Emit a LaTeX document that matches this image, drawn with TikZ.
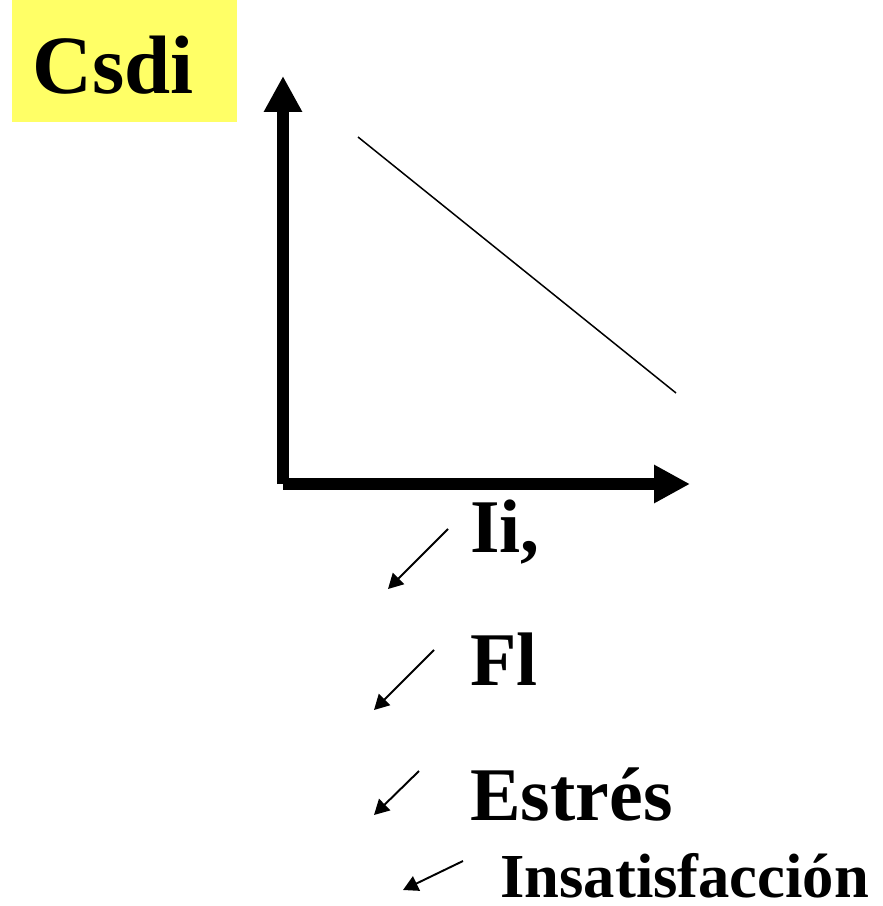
\documentclass[tikz,border=0pt]{standalone}
\usepackage{fontspec}
\setmainfont{Liberation Serif}
\usetikzlibrary{arrows.meta}

\definecolor{tagyellow}{HTML}{FFFF66}

\begin{document}
\begin{tikzpicture}[
  x=0.567pt, y=-0.567pt,
  tag/.style={fill=tagyellow, anchor=north west, inner xsep=11.3pt, inner ysep=0pt,
    text width=104.9pt, align=left, text height=52.7pt, text depth=16.4pt,
    font=\bfseries\fontsize{47}{56}\selectfont},
  word/.style={anchor=base west, inner sep=0pt, font=\bfseries\fontsize{43}{52}\selectfont},
  smallword/.style={anchor=base west, inner sep=0pt, font=\bfseries\fontsize{35.5}{43}\selectfont},
  axis/.style={line width=6.8pt, -{Triangle[length=20.4pt, width=20.4pt]}},
  trend/.style={line width=0.85pt},
  hint/.style={line width=1.1pt, -{Triangle[length=8.5pt, width=9pt]}}
]
\useasboundingbox (0,0) rectangle (882,906);

% label box
\node[tag] (csdi) at (12,0) {Csdi};

% axes and trend line
\coordinate (origin) at (283,484);
\coordinate (ytip) at (283,76);
\coordinate (xtip) at (690,484);
\draw[axis] (origin) -- (ytip);
\draw[axis] (origin) -- (xtip);
\coordinate (trendA) at (358,137);
\coordinate (trendB) at (676,393);
\draw[trend] (trendA) -- (trendB);

% consequences
\node[word] (ii) at (470,552) {Ii,};
\node[word] (fl) at (470,685) {Fl};
\node[word] (estres) at (470,820) {Estrés};
\node[smallword] (insat) at (500,897) {Insatisfacción};

\coordinate (h1a) at (448,529);
\coordinate (h1b) at (388,589);
\coordinate (h2a) at (434,650);
\coordinate (h2b) at (374,710);
\coordinate (h3a) at (419,771);
\coordinate (h3b) at (374,815);
\coordinate (h4a) at (463,861);
\coordinate (h4b) at (403,890);
\draw[hint] (h1a) -- (h1b);
\draw[hint] (h2a) -- (h2b);
\draw[hint] (h3a) -- (h3b);
\draw[hint] (h4a) -- (h4b);
\end{tikzpicture}
\end{document}
